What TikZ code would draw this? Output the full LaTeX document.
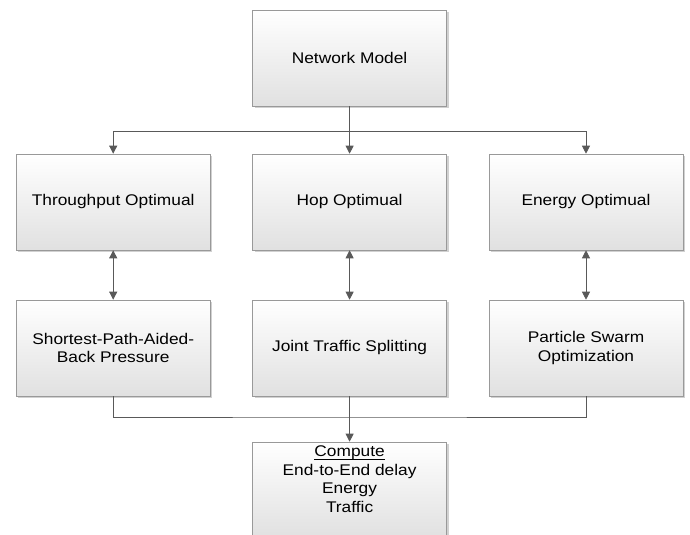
\documentclass[tikz,border=0pt]{standalone}
\usepackage{fontspec}
\setmainfont[FakeStretch=1.12]{Liberation Sans}
\usetikzlibrary{arrows.meta,shadows}
\newcommand{\undl}[1]{\leavevmode\setbox0\hbox{#1}\rlap{\vrule width\wd0 height-1.6pt depth2.3pt}\box0}
\begin{document}
\begin{tikzpicture}[x=1cm,y=1cm,font=\fontsize{11}{13.1}\selectfont,>={Triangle[length=2mm,width=2mm]},
  box/.style={draw=black!40,rectangle,minimum width=4.85cm,minimum height=2.4cm,inner sep=2pt,align=center,
    top color=white,bottom color=black!12,
    drop shadow={shadow xshift=0.05cm,shadow yshift=-0.05cm,opacity=0.3,fill=black!60}},
  link/.style={black!65,semithick}]
  \useasboundingbox (0,0) rectangle (17.25,13.375);
  \node[box] (model) at (8.74,11.925) {Network Model};
  \node[box] (thru) at (2.83,8.325) {Throughput Optimual};
  \node[box] (hop) at (8.74,8.325) {Hop Optimual};
  \node[box] (energy) at (14.65,8.325) {Energy Optimual};
  \node[box] (spabp) at (2.83,4.675) {Shortest-Path-Aided-\\Back Pressure};
  \node[box] (jts) at (8.74,4.675) {Joint Traffic Splitting};
  \node[box] (pso) at (14.65,4.675) {Particle Swarm\\Optimization};
  \node[box,label={[anchor=north,align=center,inner sep=0pt,yshift=-0.1cm]north:\undl{Compute}\\End-to-End delay\\Energy\\Traffic}] (compute) at (8.74,1.125) {};
  % bus lines
  \coordinate (topbus) at (8.74,10.1);
  \coordinate (botbus) at (8.74,2.95);
  \draw[link,->] (model) -- (hop);
  \draw[link,->] (topbus) -| (thru);
  \draw[link,->] (topbus) -| (energy);
  \draw[link,<->] (thru) -- (spabp);
  \draw[link,<->] (hop) -- (jts);
  \draw[link,<->] (energy) -- (pso);
  \draw[link] (spabp) |- (botbus) -| (pso);
  \draw[link,->] (jts) -- (compute);
\end{tikzpicture}
\end{document}
